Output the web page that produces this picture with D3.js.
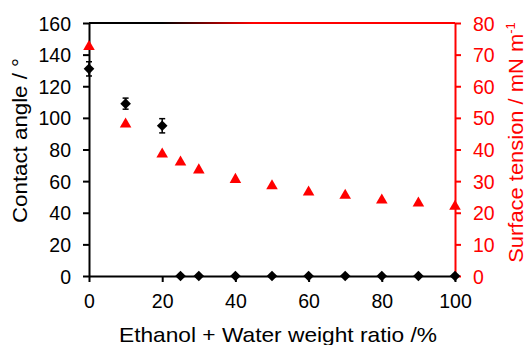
<!DOCTYPE html>
<html>
<head>
<meta charset="utf-8">
<script src="https://cdn.jsdelivr.net/npm/d3@7"></script>
<style>
  body { margin: 0; background: #fff; }
  text { font-family: "Liberation Sans", Arial, sans-serif; }
</style>
</head>
<body>
<div id="chart"></div>
<script>
'use strict';

// values
const ratio = [0, 10, 20, 25, 30, 40, 50, 60, 70, 80, 90, 100];
const contactAngle = [131, 109, 95, 0, 0, 0, 0, 0, 0, 0, 0, 0];
const contactError = [4.5, 3.5, 4.5, 0, 0, 0, 0, 0, 0, 0, 0, 0];
const surfaceTension = [72.5, 48, 38.5, 36, 33.5, 30.5, 28.5, 26.5, 25.5, 24, 23, 22];
const xTicks = [0, 20, 40, 60, 80, 100];
const leftTicks = [0, 20, 40, 60, 80, 100, 120, 140, 160];
const rightTicks = [0, 10, 20, 30, 40, 50, 60, 70, 80];

const red = "#ff0000";

// stretch a title to the length it has in the original
const fitTo = (sel, len) => sel.attr("textLength", len).attr("lengthAdjust", "spacingAndGlyphs");

const drawChart = () => {
    const width = 529, height = 345;
    const left = 89, right = 455, top = 23, bottom = 276;

    const svg = d3.select("#chart").append("svg")
        .attr("width", width)
        .attr("height", height);

    const x = d3.scaleLinear().domain([0, 100]).range([left, right]);
    const yL = d3.scaleLinear().domain([0, 160]).range([bottom, top]);
    const yR = d3.scaleLinear().domain([0, 80]).range([bottom, top]);

    // top frame line, black turning into red
    const grad = svg.append("defs").append("linearGradient")
        .attr("id", "topGrad")
        .attr("gradientUnits", "userSpaceOnUse")
        .attr("x1", left).attr("x2", right).attr("y1", 0).attr("y2", 0);
    grad.append("stop").attr("offset", "0.2").attr("stop-color", "#000");
    grad.append("stop").attr("offset", "0.45").attr("stop-color", red);
    svg.append("line")
        .attr("x1", left).attr("x2", right)
        .attr("y1", top).attr("y2", top)
        .attr("stroke", "url(#topGrad)")
        .attr("stroke-width", 2);

    const styleAxis = (g, color) => {
        g.selectAll("path").attr("stroke", color).attr("stroke-width", 2);
        g.selectAll("line").attr("stroke", color).attr("stroke-width", 2);
        g.selectAll("text").attr("fill", color).style("font-size", "19.5px");
    };

    // left axis
    svg.append("g")
        .attr("transform", "translate(" + left + ",0)")
        .call(d3.axisLeft(yL).tickValues(leftTicks).tickSize(6).tickSizeOuter(0).tickPadding(12))
        .call(g => styleAxis(g, "#000"))
        .call(g => g.selectAll("text").attr("dy", "0.36em"));

    // right axis
    svg.append("g")
        .attr("transform", "translate(" + right + ",0)")
        .call(d3.axisRight(yR).tickValues(rightTicks).tickSize(6).tickSizeOuter(0).tickPadding(12))
        .call(g => styleAxis(g, red))
        .call(g => g.selectAll("text").attr("dy", "0.36em"));

    // bottom axis
    svg.append("g")
        .attr("transform", "translate(0," + bottom + ")")
        .call(d3.axisBottom(x).tickValues(xTicks).tickSize(6).tickSizeOuter(0).tickPadding(12))
        .call(g => styleAxis(g, "#000"));

    // axis titles
    const lt = svg.append("text")
        .attr("transform", "translate(27,140.5) rotate(-90)")
        .attr("text-anchor", "middle")
        .style("font-size", "21px")
        .text("Contact angle / °");
    fitTo(lt, 165);

    const rt = svg.append("text")
        .attr("transform", "translate(523,142.5) rotate(-90)")
        .attr("text-anchor", "middle")
        .attr("fill", red)
        .style("font-size", "21px");
    fitTo(rt.append("tspan").text("Surface tension / mN m"), 229);
    rt.append("tspan").attr("dy", "-8").style("font-size", "13px").text("-1");

    const xt = svg.append("text")
        .attr("x", 278)
        .attr("y", 342)
        .attr("text-anchor", "middle")
        .style("font-size", "21px")
        .text("Ethanol + Water weight ratio /%");
    fitTo(xt, 318);

    const rows = ratio.map((r, i) => ({
        r: r, ca: contactAngle[i], err: contactError[i], st: surfaceTension[i]
    }));

    // error bars
    const eb = svg.append("g").attr("stroke", "#000").attr("stroke-width", 1.5);
    rows.filter(d => d.err > 0).forEach(d => {
        eb.append("line")
            .attr("x1", x(d.r)).attr("x2", x(d.r))
            .attr("y1", yL(d.ca + d.err)).attr("y2", yL(d.ca - d.err));
        [d.ca + d.err, d.ca - d.err].forEach(v => {
            eb.append("line")
                .attr("x1", x(d.r) - 3).attr("x2", x(d.r) + 3)
                .attr("y1", yL(v)).attr("y2", yL(v));
        });
    });

    // contact angle diamonds
    svg.append("g").selectAll("path")
        .data(rows)
        .enter()
        .append("path")
        .attr("d", d3.symbol().type(d3.symbolDiamond2).size(72))
        .attr("transform", d => "translate(" + x(d.r) + "," + yL(d.ca) + ")")
        .attr("fill", "#000");

    // surface tension triangles
    svg.append("g").selectAll("path")
        .data(rows)
        .enter()
        .append("path")
        .attr("d", d3.symbol().type(d3.symbolTriangle).size(58))
        .attr("transform", d => "translate(" + x(d.r) + "," + yR(d.st) + ")")
        .attr("fill", red);
};

drawChart();
</script>
</body>
</html>
